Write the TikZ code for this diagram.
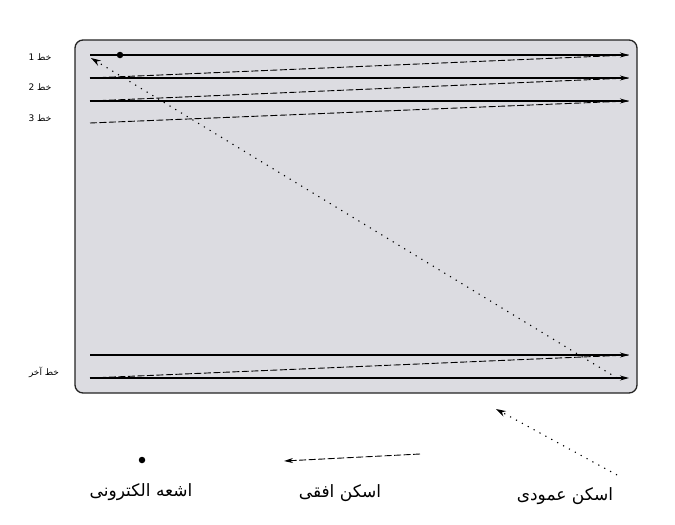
\documentclass[tikz,border=0pt]{standalone}
\usepackage{fontspec}
\newfontfamily\arabicfont[Script=Arabic]{DejaVu Sans}
\TeXXeTstate=1
\usetikzlibrary{positioning,arrows.meta}
\definecolor{screengray}{RGB}{220,220,225}
\definecolor{frameedge}{RGB}{35,35,35}
\tikzset{
  scanline/.style={line width=1.2pt,-{Stealth[length=9pt,width=5pt]}},
  retrace/.style={line width=0.9pt,dash pattern=on 7pt off 2.5pt},
  vsweep/.style={line width=1.1pt,dash pattern=on 1.2pt off 5.5pt,-{Stealth[length=10pt,width=6pt]}},
  linelabel/.style={font=\arabicfont\fontsize{9}{10}\selectfont},
  caption/.style={font=\arabicfont\fontsize{17}{19}\selectfont}
}
\begin{document}
\begin{tikzpicture}[x=1pt,y=-1pt]
\useasboundingbox (0,0) rectangle (675,525);
% screen
\draw[frameedge,fill=screengray,line width=1.3pt,rounded corners=8pt] (75,40) rectangle (637,393);
% line ends
\foreach \n/\y in {1/55,2/78,3/101,4/123,8/355,9/378} {
  \coordinate (s\n) at (90,\y);
  \coordinate (e\n) at (629,\y);
}
% scan lines
\foreach \n in {1,2,3,8,9} \draw[scanline] (s\n) -- (e\n);
% retrace
\draw[retrace] (s2) -- (e1)
  (s3) -- (e2)
  (s4) -- (e3)
  (s9) -- (e8);
% beam spot and vertical retrace
\node (spot) at (120,55) [circle,fill,inner sep=0pt,minimum size=6.5pt]{};
\coordinate (vstart) at (617,378);
\coordinate (vend) at (91,58);
\draw[vsweep] (vstart) -- (vend);
% labels on the left
\node (l1) at (40,57) [linelabel]{\beginR خط 1\endR};
\node (l2) at (40,87) [linelabel]{\beginR خط 2\endR};
\node (l3) at (40,118) [linelabel]{\beginR خط 3\endR};
\node (l9) at (44,372) [linelabel]{\beginR خط آخر\endR};
% legend
\node (beam) at (142,460) [circle,fill,inner sep=0pt,minimum size=6.5pt]{};
\node (beamtxt) at (141,492) [caption]{\beginR اشعه الکترونی\endR};
\coordinate (hstart) at (420,454);
\coordinate (hend) at (284,461);
\draw[retrace,-{Stealth[length=9pt,width=5pt]}] (hstart) -- (hend);
\node (htxt) at (340,493) [caption]{\beginR اسکن افقی\endR};
\coordinate (vlstart) at (617,475);
\coordinate (vlend) at (496,409);
\draw[vsweep] (vlstart) -- (vlend);
\node (vtxt) at (565,496) [caption]{\beginR اسکن عمودی\endR};
\end{tikzpicture}
\end{document}
